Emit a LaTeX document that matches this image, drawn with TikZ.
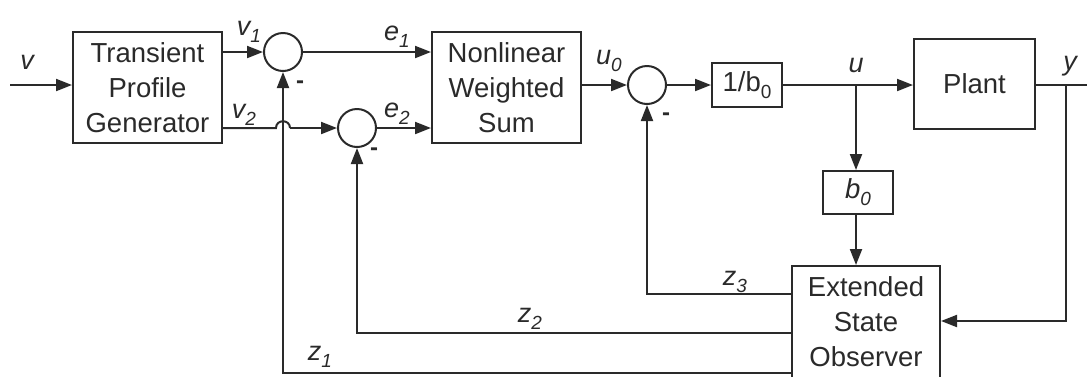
\documentclass[tikz,border=0pt]{standalone}
\usepackage{fontspec}
\setmainfont{Liberation Sans}
\usetikzlibrary{arrows.meta}
\definecolor{ink}{HTML}{2A2A2A}
\newcommand{\lbl}[2]{{\itshape #1\raisebox{-7pt}{\fontsize{19}{19}\selectfont #2}}}
\begin{document}
\begin{tikzpicture}[x=1pt,y=-1pt,
  every node/.style={text=ink},
  blk/.style={draw=ink,line width=2pt,align=center,inner sep=0pt,
    font=\fontsize{27.5}{35}\selectfont},
  sumc/.style={draw=ink,line width=2pt,circle,minimum size=38pt,inner sep=0pt},
  wire/.style={draw=ink,line width=2pt},
  arr/.style={wire,-{Triangle[length=16pt,width=12pt]}},
  lab/.style={font=\fontsize{27}{27}\selectfont,inner sep=0pt},
  mns/.style={font=\fontsize{24}{24}\selectfont\bfseries,inner sep=0pt}]
\useasboundingbox (0,0) rectangle (1087,376);
\clip (0,0) rectangle (1087,376);
% blocks
\node[blk,minimum width=149pt,minimum height=111pt] (tpg) at (147.5,87.5) {Transient\\Profile\\Generator};
\node[blk,minimum width=149pt,minimum height=111pt] (nws) at (506.5,87.5) {Nonlinear\\Weighted\\Sum};
\node[blk,minimum width=70pt,minimum height=44pt] (inv) at (747,85) {1/b\raisebox{-7pt}{\fontsize{19}{19}\selectfont 0}};
\node[blk,minimum width=121pt,minimum height=90pt] (plant) at (974.5,84) {Plant};
\node[blk,minimum width=70pt,minimum height=43pt] (b0) at (858,192.5) {\lbl{b}{0}};
\node[blk,minimum width=148pt,minimum height=112pt] (eso) at (866,322) {Extended\\State\\Observer};
% summing junctions
\node[sumc] (s1) at (283,52) {};
\node[sumc] (s2) at (357,128) {};
\node[sumc] (s3) at (647,85) {};
% coordinates
\coordinate (vin) at (10,85);
\coordinate (e1in) at (nws.west |- s1);
\coordinate (e2in) at (nws.west |- s2);
\coordinate (v2out) at (tpg.east |- s2);
\coordinate (v1out) at (tpg.east |- s1);
\coordinate (ubr) at (856,85);
\coordinate (yout) at (1087,85);
\coordinate (ybr) at (1066,85);
\coordinate (ycor) at (1066,321);
\coordinate (z3c) at (647,294);
\coordinate (z2c) at (357,333);
\coordinate (z1c) at (283,373);
\coordinate (hopa) at (276,128);
\coordinate (hopb) at (290,128);
% forward path
\draw[arr] (vin) -- (tpg.west |- vin);
\draw[arr] (v1out) -- (s1.west);
\draw[wire] (v2out) -- (hopa) .. controls (276,119) and (290,119) .. (hopb);
\draw[arr] (hopb) -- (s2.west);
\draw[arr] (s1.east) -- (e1in);
\draw[arr] (s2.east) -- (e2in);
\draw[arr] (nws.east |- s3) -- (s3.west);
\draw[arr] (s3.east) -- (inv.west);
\draw[arr] (inv.east) -- (plant.west |- inv.east);
\draw[arr] (ubr) -- (b0.north -| ubr);
\draw[arr] (b0.south -| ubr) -- (eso.north -| ubr);
\draw[wire] (plant.east |- yout) -- (yout);
\draw[arr] (ybr) -- (ycor) -- (eso.east |- ycor);
% feedback
\draw[arr] (eso.west |- z3c) -- (z3c) -- (s3.south);
\draw[arr] (eso.west |- z2c) -- (z2c) -- (s2.south);
\draw[arr] (eso.west |- z1c) -- (z1c) -- (s1.south);
% labels
\node[lab] (lv) at (27,62) {\itshape v};
\node[lab] (lv1) at (249,32) {\lbl{v}{1}};
\node[lab] (le1) at (397,37) {\lbl{e}{1}};
\node[lab] (lv2) at (244,115) {\lbl{v}{2}};
\node[lab] (le2) at (397,114) {\lbl{e}{2}};
\node[lab] (lu0) at (609,61) {\lbl{u}{0}};
\node[lab] (lu) at (856,65) {\itshape u};
\node[lab] (ly) at (1070,66) {\itshape y};
\node[lab] (lz3) at (735,282) {\lbl{z}{3}};
\node[lab] (lz2) at (530,319) {\lbl{z}{2}};
\node[lab] (lz1) at (320,357) {\lbl{z}{1}};
\node[mns] (m1) at (300,85) {-};
\node[mns] (m2) at (374,152) {-};
\node[mns] (m3) at (666,117) {-};
\end{tikzpicture}
\end{document}
